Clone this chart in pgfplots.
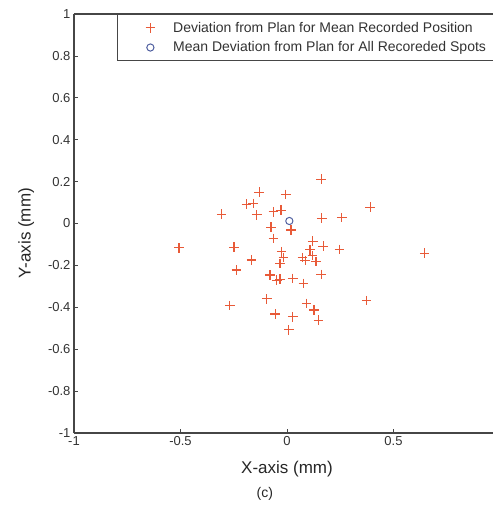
\documentclass[border=0pt]{standalone}
\usepackage{fontspec}
\setmainfont{Liberation Sans}
\usepackage{pgfplots}
\pgfplotsset{compat=1.18}

\definecolor{plusred}{RGB}{232,90,56}
\definecolor{circblue}{RGB}{80,96,160}
\definecolor{axisgray}{RGB}{70,70,70}

\begin{document}
\begin{tikzpicture}
\begin{axis}[
  at={(0,0)}, anchor=south west,
  width=426pt, height=419pt, scale only axis,
  xmin=-1, xmax=1, ymin=-1, ymax=1,
  axis x line=box, axis y line=left,
  axis line style={-, line width=1.1pt, axisgray},
  xtick={-1,-0.5,0,0.5},
  ytick={-1,-0.8,-0.6,-0.4,-0.2,0,0.2,0.4,0.6,0.8,1},
  tick align=inside, major tick length=4pt,
  tick style={line width=0.8pt, axisgray},
  ticklabel style={font=\fontsize{13}{13}\selectfont, text=black!80},
  /pgf/number format/assume math mode=true,
  xlabel={X-axis (mm)},
  xlabel style={font=\fontsize{17}{17}\selectfont, text=black!85,
    at={(axis description cs:0.5,-0.085)}, anchor=center},
  ylabel={Y-axis (mm)},
  ylabel style={font=\fontsize{17}{17}\selectfont, text=black!85,
    at={(axis description cs:-0.112,0.477)}, anchor=center, rotate=0},
  legend style={at={(axis description cs:0.101,1)}, anchor=north west,
    draw=axisgray, line width=1.1pt, fill=white,
    font=\fontsize{14}{16}\selectfont, text=black!80,
    inner xsep=28pt, inner ysep=5.5pt, row sep=4pt, column sep=16pt},
  legend cell align=left,
  clip=false,
]

% deviation of each mean recorded position from plan
\addplot[only marks, mark=+, mark size=4.8pt, color=plusred, line width=1.1pt,
  mark options={draw=plusred, solid}]
  coordinates {
  (0.160,0.211) (-0.131,0.149) (-0.006,0.139) (-0.190,0.092) (-0.159,0.096)
  (-0.307,0.045) (-0.142,0.041) (-0.064,0.056) (-0.028,0.064) (0.163,0.025)
  (0.257,0.028) (0.390,0.078) (-0.075,-0.018) (0.019,-0.031) (-0.064,-0.071)
  (-0.507,-0.116) (-0.249,-0.113) (0.121,-0.084) (0.170,-0.108) (0.246,-0.124)
  (0.646,-0.142) (0.108,-0.126) (-0.025,-0.135) (-0.017,-0.163) (-0.033,-0.190)
  (0.073,-0.163) (0.085,-0.177) (0.119,-0.153) (0.136,-0.182) (-0.166,-0.174)
  (-0.237,-0.222) (-0.080,-0.246) (-0.048,-0.270) (-0.033,-0.266) (0.027,-0.262)
  (0.077,-0.286) (0.160,-0.243) (0.374,-0.368) (-0.095,-0.360) (-0.268,-0.392)
  (0.092,-0.381) (0.127,-0.413) (-0.056,-0.432) (0.027,-0.445) (0.147,-0.461)
  (0.009,-0.508)
  };
\addlegendentry{Deviation from Plan for Mean Recorded Position}

% mean over all spots
\addplot[only marks, mark=o, mark size=3.6pt, color=circblue, line width=1pt,
  mark options={draw=circblue, solid}]
  coordinates {(0.011,0.012)};
\addlegendentry{Mean Deviation from Plan for All Recoreded Spots\rule{0pt}{0pt}\hspace*{20pt}}

\node[font=\fontsize{14}{14}\selectfont, text=black!85]
  at (axis description cs:0.448,-0.146) {(c)};
\end{axis}
\pgfresetboundingbox
\path (-74pt,-74pt) rectangle (419pt,433pt);
\end{tikzpicture}
\end{document}
